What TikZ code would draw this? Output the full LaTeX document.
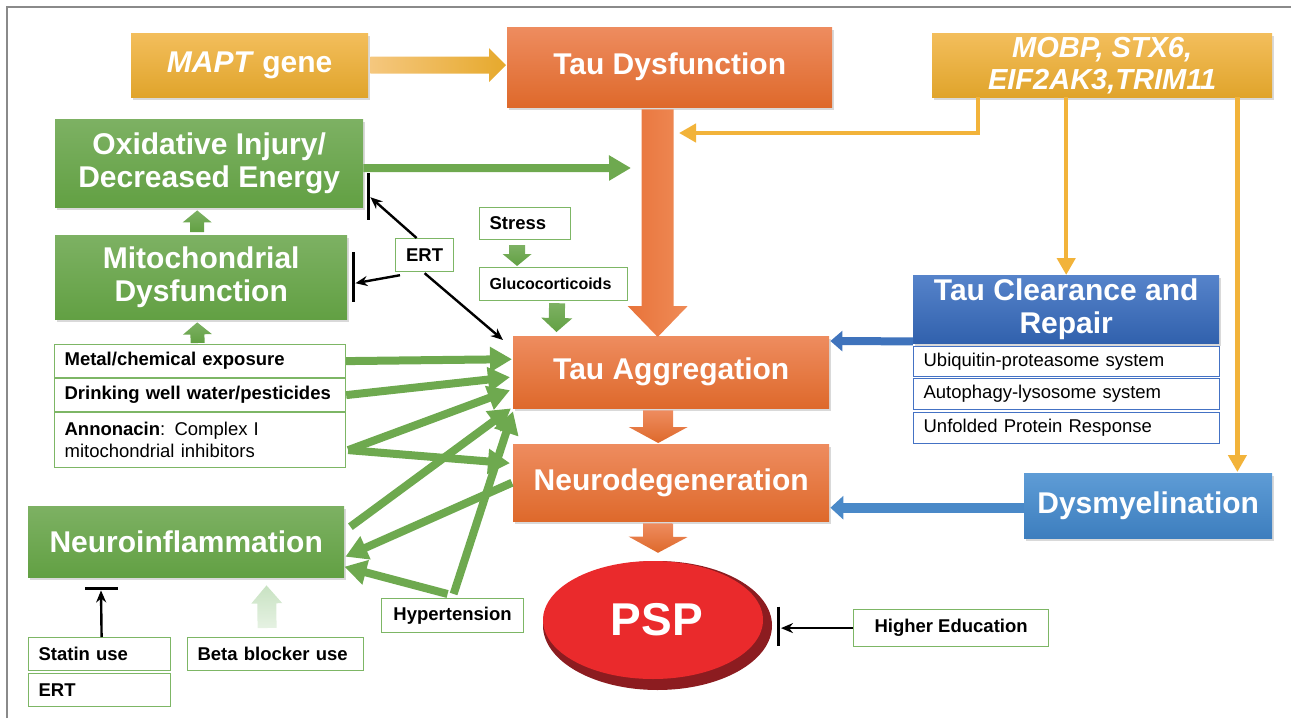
\documentclass[tikz,border=0pt]{standalone}
\usepackage{fontspec}
\setmainfont{Liberation Sans}
\usetikzlibrary{arrows.meta,calc,shadows,shapes.geometric}
\definecolor{orT}{HTML}{EE8C5F}
\definecolor{orB}{HTML}{DE692B}
\definecolor{orL}{HTML}{E8733A}
\definecolor{orR}{HTML}{EF8B57}
\definecolor{yeT}{HTML}{F3BE5C}
\definecolor{yeB}{HTML}{E0A42B}
\definecolor{yeL}{HTML}{F5C77E}
\definecolor{yeR}{HTML}{E6A92C}
\definecolor{grT}{HTML}{7DB163}
\definecolor{grB}{HTML}{62A043}
\definecolor{blT}{HTML}{5683CA}
\definecolor{blB}{HTML}{3161AD}
\definecolor{lbT}{HTML}{5E9CD6}
\definecolor{lbB}{HTML}{3D7EBE}
\definecolor{garrow}{HTML}{6EA94F}
\definecolor{gline}{HTML}{7DB665}
\definecolor{bline}{HTML}{4472C4}
\definecolor{yarrow}{HTML}{F2B33A}
\definecolor{barrowA}{HTML}{3F73BC}
\definecolor{barrowB}{HTML}{4A89C8}
\definecolor{pspred}{HTML}{EA2A2C}
\definecolor{pspdark}{HTML}{8C1C20}
\definecolor{betaT}{HTML}{C8E2C2}
\definecolor{betaB}{HTML}{E6F2E3}
\definecolor{framegray}{HTML}{8A8A8A}

\newcommand{\blockarrow}[6][]{%
  \coordinate (ba-h) at ($(#3)!#6!(#2)$);
  \path[#1] ($(#2)!#4!90:(#3)$) -- ($(ba-h)!#4!90:(#3)$) -- ($(ba-h)!#5!90:(#3)$) -- (#3)
    -- ($(ba-h)!#5!-90:(#3)$) -- ($(ba-h)!#4!-90:(#3)$) -- ($(#2)!#4!-90:(#3)$) -- cycle;
}

\tikzset{
  big/.style={anchor=north west, inner sep=0pt, align=center, text=white,
    font=\bfseries\fontsize{30}{33}\selectfont,
    drop shadow={shadow xshift=2pt, shadow yshift=-2.5pt, opacity=0.3}},
  orbox/.style={big, top color=orT, bottom color=orB},
  yebox/.style={big, top color=yeT, bottom color=yeB},
  grbox/.style={big, top color=grT, bottom color=grB},
  blbox/.style={big, top color=blT, bottom color=blB},
  lbbox/.style={big, top color=lbT, bottom color=lbB},
  sb/.style={anchor=north west, draw=gline, line width=1.2pt, fill=white,
    inner xsep=10pt, inner ysep=0pt, text=black, align=left,
    font=\bfseries\fontsize{18.5}{22}\selectfont},
  sbc/.style={sb, align=center, inner xsep=0pt},
  sbb/.style={sb, draw=bline, font=\fontsize{18.5}{22}\selectfont},
  garr/.style={draw=garrow, line width=8pt, -{Triangle[length=22pt,width=24pt]}},
  yarr/.style={draw=yarrow, line width=4.5pt},
  yhead/.style={-{Triangle[length=17pt,width=18pt]}},
  karr/.style={draw=black, line width=2.4pt, -{Stealth[length=12pt,width=10pt]}},
  kbar/.style={draw=black, line width=3pt},
}

\begin{document}
\begin{tikzpicture}[x=1pt, y=-1pt]
\useasboundingbox (0,0) rectangle (1291,718);
\draw[framegray, line width=1.5pt] (7,718) -- (7,7) -- (1291,7);

% ---- main boxes
\node[yebox, minimum width=237pt, minimum height=64pt] (mapt) at (131,33) {\textit{MAPT} gene};
\node[orbox, minimum width=325pt, minimum height=80pt] (taudys) at (507,27) {Tau Dysfunction};
\node[yebox, minimum width=340pt, minimum height=64pt, font=\bfseries\itshape\fontsize{29}{32}\selectfont] (mobp) at (932,33) {MOBP, STX6,\\EIF2AK3,TRIM11};
\node[grbox, minimum width=308pt, minimum height=88pt] (oxid) at (55,119) {Oxidative Injury/\\Decreased Energy};
\node[grbox, minimum width=292pt, minimum height=84pt] (mito) at (55,235) {Mitochondrial\\Dysfunction};
\node[orbox, minimum width=316pt, minimum height=72pt] (tauagg) at (513,336) {Tau Aggregation};
\node[orbox, minimum width=316pt, minimum height=77pt] (neurodeg) at (513,444) {Neurodegeneration};
\node[blbox, minimum width=306pt, minimum height=68pt] (clear) at (913,275) {Tau Clearance and\\Repair};
\node[lbbox, minimum width=248pt, minimum height=65pt] (dysm) at (1024,473) {Dysmyelination};
\node[grbox, minimum width=316pt, minimum height=71pt] (neuroinfl) at (28,506) {Neuroinflammation};

% ---- PSP
\fill[pspdark] (657.5,625.5) ellipse [x radius=114.5pt, y radius=64.5pt];
\node[ellipse, fill=pspred, minimum width=220pt, minimum height=118pt, inner sep=0pt,
  text=white, font=\bfseries\fontsize{46}{50}\selectfont] (psp) at (653,620) {\hspace{8pt}PSP};

% ---- small boxes
\node[sb, text width=271pt, minimum height=33pt] (metal) at (54,344) {Metal/chemical exposure};
\node[sb, text width=271pt, minimum height=33pt] (drink) at (54,378) {Drinking well water/pesticides};
\node[sb, text width=271pt, minimum height=55pt, font=\fontsize{18.5}{22}\selectfont] (annon) at (54,412) {\textbf{Annonacin}: Complex I\\mitochondrial inhibitors};
\node[sb, text width=122pt, minimum height=33pt] (statin) at (28,637) {Statin use};
\node[sb, text width=122pt, minimum height=33pt] (ertb) at (28,673) {ERT};
\node[sb, text width=156pt, minimum height=33pt] (beta) at (187,637) {Beta blocker use};
\node[sbc, minimum width=142pt, minimum height=34pt] (hyper) at (381,598) {Hypertension};
\node[sbc, minimum width=58pt, minimum height=33pt] (erta) at (395,238) {ERT};
\node[sb, text width=71pt, minimum height=32pt] (stress) at (479,207) {Stress};
\node[sb, text width=128pt, minimum height=33pt, font=\bfseries\fontsize{16}{20}\selectfont] (gluco) at (479,267) {Glucocorticoids};
\node[sbc, minimum width=195pt, minimum height=37pt] (higher) at (853,609) {Higher Education};
\node[sbb, text width=286pt, minimum height=30pt] (ubi) at (913,346) {Ubiquitin-proteasome system};
\node[sbb, text width=286pt, minimum height=31pt] (auto) at (913,378) {Autophagy-lysosome system};
\node[sbb, text width=286pt, minimum height=31pt] (unf) at (913,412) {Unfolded Protein Response};

% ---- block arrows
\coordinate (mA) at ($(mapt.east)+(2,0)$);
\coordinate (mB) at ($(taudys.west)+(-1,-2)$);
\blockarrow[left color=yeL, right color=yeR]{mA}{mB}{8.5pt}{17pt}{17pt}

\coordinate (bigA) at ($(taudys.south)+(-12,2)$);
\coordinate (bigB) at ($(tauagg.north)+(-13.5,1)$);
\blockarrow[left color=orL, right color=orR]{bigA}{bigB}{16pt}{30pt}{31pt}

\coordinate (s1A) at ($(tauagg.south)+(-13,2)$);
\coordinate (s1B) at ($(neurodeg.north)+(-13,-1)$);
\blockarrow[top color=orT, bottom color=orB]{s1A}{s1B}{15pt}{29.5pt}{16pt}
\coordinate (s2A) at ($(neurodeg.south)+(-13,2)$);
\coordinate (s2B) at ($(psp.north)+(5,-8)$);
\blockarrow[top color=orT, bottom color=orB]{s2A}{s2B}{15pt}{29.5pt}{16pt}

\coordinate (g1A) at ($(mito.north)+(-4,-3)$);
\coordinate (g1B) at ($(oxid.south)+(-12,3)$);
\blockarrow[top color=grT, bottom color=grB]{g1A}{g1B}{7pt}{14.5pt}{12pt}
\coordinate (g2A) at ($(metal.north)+(-2.5,-1)$);
\coordinate (g2B) at ($(mito.south)+(-4,3)$);
\blockarrow[top color=grT, bottom color=grB]{g2A}{g2B}{7pt}{14.5pt}{12pt}
\coordinate (g3A) at ($(stress.south)+(-8,5)$);
\coordinate (g3B) at ($(gluco.north)+(-36.5,-1)$);
\blockarrow[top color=grT, bottom color=grB]{g3A}{g3B}{8pt}{14.5pt}{12pt}
\coordinate (g4A) at ($(gluco.south)+(3.5,2)$);
\coordinate (g4B) at ($(tauagg.north west)+(43.5,-4)$);
\blockarrow[top color=grT, bottom color=grB]{g4A}{g4B}{8pt}{15.5pt}{14pt}
\coordinate (btA) at ($(beta.north)+(-8.5,-9)$);
\coordinate (btB) at ($(neuroinfl.south west)+(238.5,8)$);
\blockarrow[top color=betaT, bottom color=betaB]{btA}{btB}{9.5pt}{15.5pt}{18pt}

% ---- green line arrows
\coordinate (oxend) at (631,168);
\draw[garr] ($(oxid.east)+(0,5)$) -- (oxend);
\draw[garr] (metal.east) -- ($(tauagg.west)+(-1,-13)$);
\draw[garr] (drink.east) -- ($(tauagg.west)+(-3,5)$);
\draw[garr] ($(annon.east)+(2,10)$) -- ($(tauagg.west)+(-3,18)$);
\draw[garr] ($(annon.east)+(2,10)$) -- ($(neurodeg.west)+(-3,-19.5)$);
\draw[garr] ($(neuroinfl.east)+(6,-15)$) -- ($(tauagg.south west)+(-2,0)$);
\draw[garr] ($(neurodeg.west)+(-1,0)$) -- ($(neuroinfl.east)+(1,15)$);
\draw[garr] ($(hyper.north)+(-5,-4)$) -- ($(neuroinfl.east)+(0,25)$);
\draw[garr] ($(hyper.north)+(1,-4)$) -- ($(tauagg.south west)+(0,3)$);

% ---- yellow connectors
\coordinate (yend) at (679,133);
\draw[yarr, yhead] ($(mobp.south west)+(46,0)$) |- (yend);
\draw[yarr, yhead] (clear.north |- mobp.south) -- (clear.north);
\draw[yarr, yhead] ($(mobp.south east)+(-35,0)$) -- ($(dysm.north east)+(-35,-1)$);

% ---- blue connectors
\draw[draw=barrowA, line width=8pt, -{Triangle[length=12pt,width=20pt]}] ($(clear.south west)+(0,-2)$) -- ($(tauagg.north east)+(1,5)$);
\draw[draw=barrowB, line width=10pt, -{Triangle[length=13pt,width=23pt]}] ($(dysm.west)+(0,2)$) -- ($(neurodeg.east)+(1,25)$);

% ---- black inhibitor / ERT arrows
\draw[karr] ($(erta.north)+(-8,0)$) -- ($(oxid.east)+(7,34)$);
\draw[kbar] ($(oxid.east)+(5,10)$) -- ($(oxid.east)+(5,57)$);
\draw[karr] ($(erta.south west)+(5,3)$) -- ($(mito.east)+(8,6)$);
\draw[kbar] ($(mito.east)+(6,-25)$) -- ($(mito.east)+(6,25)$);
\draw[karr] ($(erta.south)+(0,1)$) -- ($(tauagg.north west)+(-10,4)$);
\draw[karr] ($(statin.north)+(2,0)$) -- ($(neuroinfl.south west)+(73,13)$);
\draw[kbar] ($(neuroinfl.south west)+(57,11)$) -- ($(neuroinfl.south west)+(90,11)$);
\draw[karr] (higher.west) -- ($(higher.west)+(-72,0)$);
\draw[kbar] ($(higher.west)+(-75,-21.5)$) -- ($(higher.west)+(-75,17.5)$);
\end{tikzpicture}
\end{document}
